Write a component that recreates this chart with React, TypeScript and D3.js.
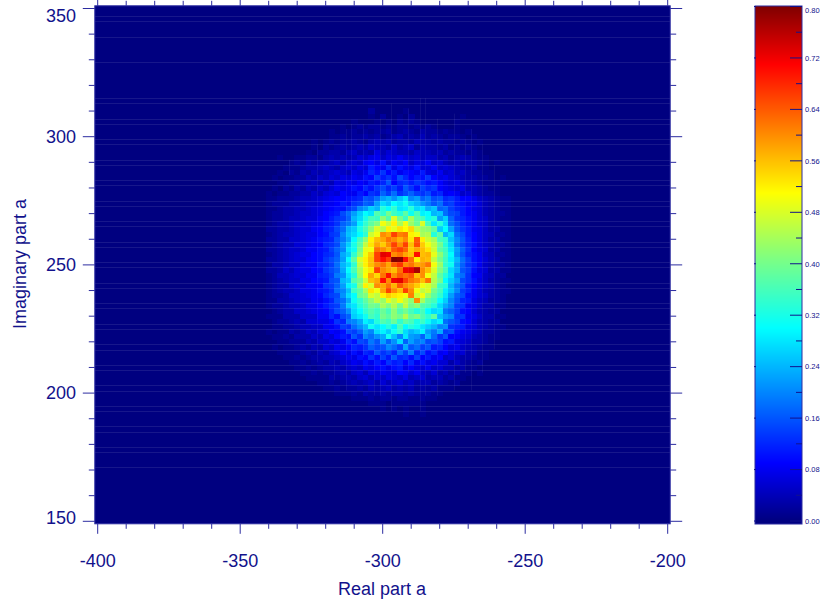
import React from "react";
import * as d3 from "d3";

const xMajor = [-400, -350, -300, -250, -200];
const yMajor = [150, 200, 250, 300, 350];
const yLabelNudge = [-3, 0, 0, 0, 7];
const barMajor = [0, 0.08, 0.16, 0.24, 0.32, 0.4, 0.48, 0.56, 0.64, 0.72, 0.8];
const xTitle = "Real part a";
const yTitle = "Imaginary part a";

const heatXStart = -340;
const heatYStart = 310;
// bin heights in hundredths, rows from y=310 downward in 2-unit bins, columns from x=-340 rightward
const heatRows: number[][] = [
[0,0,0,0,0,0,0,0,0,0,0,0,0,0,0,0,0,0,2,0,0,0,0,0,1,0,0,0,0,0,0,0,0,0,0,0,0,0,0,0,0,0,0],
[0,0,0,0,0,0,0,0,0,0,0,0,0,0,0,0,0,0,1,0,2,0,0,1,0,2,0,0,0,0,0,0,0,0,1,0,0,0,0,0,0,0,0],
[0,0,0,0,0,0,0,0,0,0,0,0,0,0,0,1,0,0,0,1,0,1,0,2,1,2,1,0,0,0,0,0,0,1,0,0,0,0,0,0,0,0,0],
[0,0,0,0,0,0,0,0,0,0,0,0,0,1,0,1,2,1,2,2,1,2,1,2,2,1,2,1,2,1,0,0,0,1,0,0,0,0,0,0,0,0,0],
[0,0,0,0,0,0,0,0,0,0,0,1,0,1,1,2,1,2,1,2,2,3,1,2,3,2,1,3,2,2,1,2,1,1,0,1,0,0,0,0,0,0,0],
[0,0,0,0,0,0,0,0,0,0,0,1,1,2,1,2,2,3,2,3,1,2,3,4,2,3,2,4,2,3,2,1,2,2,1,0,1,0,0,0,0,0,0],
[0,0,0,0,0,0,0,0,1,0,1,2,1,2,2,3,2,1,3,4,3,4,2,3,3,2,4,3,3,2,3,2,2,1,2,1,0,1,0,0,0,0,0],
[0,0,0,0,0,0,0,0,1,0,2,1,2,3,2,3,4,3,5,4,4,3,5,3,4,5,2,4,3,3,2,3,1,2,1,2,1,0,0,0,0,0,0],
[0,0,0,0,0,0,0,1,0,2,2,3,3,2,4,5,3,4,3,7,4,6,5,4,4,3,5,4,4,3,4,2,3,2,2,1,2,1,0,0,0,0,0],
[0,0,1,0,0,1,1,2,2,1,3,4,3,4,3,4,6,5,7,8,5,7,6,8,6,5,6,4,5,5,3,4,2,3,4,3,2,1,1,0,0,0,0],
[0,0,0,0,1,2,1,3,2,3,3,4,5,3,5,6,5,8,9,7,10,6,8,7,9,5,7,6,8,5,6,4,3,4,2,3,3,2,1,0,1,0,0],
[0,0,0,1,1,1,2,3,3,4,5,4,3,5,6,5,7,6,11,9,8,12,7,10,8,7,10,6,6,8,5,6,5,4,3,2,3,1,1,0,0,0,0],
[0,0,1,0,2,1,3,2,4,3,4,5,6,5,4,7,6,8,12,10,13,9,11,8,10,9,8,11,7,6,8,5,6,4,5,3,2,2,1,1,0,0,0],
[0,1,0,1,1,2,2,4,3,5,4,6,5,7,6,8,7,10,9,14,11,13,10,15,12,9,11,10,13,9,7,8,6,5,4,3,3,2,2,1,0,1,0],
[0,0,1,1,2,2,3,3,4,3,5,4,7,6,8,7,9,8,11,10,12,16,9,12,13,11,13,12,10,11,9,7,6,7,5,4,3,2,1,1,1,0,0],
[0,1,0,2,1,3,2,4,3,5,4,6,8,7,8,10,9,12,10,13,15,12,14,11,16,13,10,14,12,13,9,8,7,6,7,4,4,3,2,1,1,0,0],
[1,0,1,1,2,2,3,3,5,4,6,7,6,9,8,8,11,9,13,12,17,14,18,13,15,17,14,13,15,11,12,8,9,8,5,6,4,3,2,2,1,0,0],
[1,1,2,2,2,3,4,4,5,6,7,8,9,9,10,11,12,16,15,18,22,24,21,25,28,20,22,17,19,15,16,12,13,11,9,9,7,5,4,3,2,1,1],
[1,2,2,2,3,3,4,5,5,6,8,8,9,11,10,13,14,17,16,22,27,25,30,28,31,26,24,21,19,16,18,13,14,11,10,8,8,6,4,3,2,1,1],
[1,1,2,3,3,4,4,5,6,7,8,9,10,10,13,15,20,22,26,24,33,30,34,28,29,33,27,28,23,25,17,18,14,12,11,9,7,6,4,3,2,1,1],
[1,2,2,3,3,4,5,5,6,7,9,10,11,15,18,22,26,30,28,37,34,40,35,33,38,31,36,29,30,24,25,18,15,14,11,9,8,6,4,3,2,2,1],
[1,2,2,3,4,4,5,6,6,8,9,11,13,14,17,24,27,32,36,35,42,37,48,40,35,44,38,36,31,33,22,26,17,13,12,10,8,6,5,3,2,1,1],
[1,2,3,3,4,5,5,6,7,8,10,11,13,17,19,22,29,34,38,41,50,46,52,44,50,43,39,48,36,28,33,27,18,15,12,10,8,6,5,3,2,1,1],
[2,2,3,3,4,5,6,6,8,9,11,12,15,18,24,26,32,36,42,48,45,52,49,53,51,54,46,43,42,38,26,30,22,16,13,11,8,7,5,3,3,1,1],
[1,2,3,4,4,5,6,7,7,9,10,13,14,20,25,27,30,34,47,50,60,58,66,61,62,52,50,44,45,33,38,24,27,18,15,11,9,7,5,4,2,2,1],
[2,2,3,3,5,5,6,7,8,10,11,12,16,19,23,30,36,42,52,56,58,62,60,57,60,53,64,52,47,44,36,34,25,20,16,12,9,7,5,3,3,1,1],
[1,2,3,4,4,6,6,7,8,9,12,13,15,21,26,32,38,46,53,58,55,60,66,60,66,56,65,55,50,46,40,33,27,19,15,12,10,7,5,4,2,2,1],
[2,2,3,4,5,5,6,8,8,10,11,14,17,20,28,31,40,49,50,62,60,57,64,66,63,55,58,56,53,47,38,35,28,22,17,13,9,7,6,3,3,1,1],
[1,2,3,4,5,6,7,7,9,10,12,13,16,23,26,34,42,50,55,66,73,72,60,62,58,56,70,56,57,49,42,36,30,21,16,12,10,8,5,4,2,2,1],
[2,2,3,4,5,6,6,8,9,10,13,15,17,22,30,38,48,52,56,66,70,66,80,79,70,62,52,57,56,46,40,35,29,24,18,14,10,8,6,4,3,1,1],
[1,3,3,4,5,5,7,8,8,11,12,14,18,24,27,34,46,52,56,60,62,58,64,67,60,62,58,59,62,50,43,34,31,22,17,13,11,8,5,4,2,2,1],
[2,2,3,5,4,6,7,7,9,10,13,15,17,23,30,36,44,50,53,66,60,58,56,62,72,73,77,60,56,48,41,36,27,23,16,14,10,7,6,3,3,1,1],
[1,2,4,4,5,6,6,8,8,11,12,14,19,21,28,33,43,51,58,54,62,70,60,64,62,64,56,60,50,46,38,33,28,20,18,13,9,8,5,4,2,2,0],
[1,2,3,4,5,5,7,7,9,10,11,15,16,24,26,37,40,47,56,58,70,60,72,73,66,62,60,56,62,45,40,30,26,22,15,13,10,7,5,3,2,1,1],
[1,2,3,3,5,6,6,8,8,9,13,14,17,22,29,32,42,52,48,60,58,62,57,64,60,58,55,50,48,44,35,33,24,19,16,11,9,7,5,4,2,1,0],
[1,2,3,4,4,5,7,7,8,10,11,13,18,20,25,35,38,44,53,50,58,66,60,56,66,60,50,46,48,40,36,29,25,20,14,12,8,6,4,3,2,1,1],
[1,2,2,3,5,5,6,7,8,9,12,14,15,21,27,30,39,41,48,46,52,55,53,52,50,61,47,50,43,38,34,28,22,17,15,10,8,6,5,3,2,1,0],
[1,1,3,3,4,5,6,6,8,8,10,12,16,18,23,31,34,38,42,46,43,49,46,50,46,42,60,44,38,36,30,26,20,16,12,11,7,5,4,2,2,1,0],
[1,2,2,3,4,4,5,7,7,9,11,13,14,19,26,28,33,36,40,39,44,41,45,40,46,40,42,37,36,33,27,23,20,14,13,8,7,5,3,3,1,1,0],
[0,1,2,3,3,5,5,6,7,8,9,12,15,17,21,27,30,34,37,35,39,36,42,37,40,36,33,36,30,27,28,19,17,14,10,9,6,4,3,2,2,0,0],
[1,1,1,3,3,3,5,5,5,8,8,12,10,15,17,26,28,31,36,34,40,38,42,40,45,39,41,37,34,38,25,22,20,13,13,8,7,5,3,3,1,1,0],
[0,1,2,2,3,4,3,6,6,7,7,9,13,12,19,20,23,29,27,33,37,35,39,34,38,36,32,35,31,27,29,18,16,14,10,9,6,4,3,2,2,0,0],
[0,1,1,2,2,3,4,4,5,5,8,8,10,14,13,18,21,24,31,28,30,33,29,36,30,33,31,28,26,24,20,21,13,12,11,7,6,4,3,2,1,1,0],
[1,0,1,1,3,2,3,5,4,6,6,9,8,10,15,14,17,22,20,27,29,26,31,34,27,24,26,29,22,19,23,14,15,10,8,7,5,4,2,2,1,0,0],
[0,1,1,2,1,3,3,3,5,4,7,6,9,11,10,16,13,20,18,21,23,31,25,20,28,22,21,17,24,18,13,16,9,9,7,6,4,3,2,1,1,0,0],
[0,0,1,1,2,2,2,4,3,5,5,7,6,8,12,10,15,14,19,16,22,17,21,27,17,22,19,20,15,16,14,10,11,7,6,5,3,3,2,1,0,0,0],
[0,1,0,1,1,2,3,2,4,3,6,5,8,7,9,12,11,13,17,15,16,20,18,15,23,16,18,14,16,11,12,9,7,8,5,4,3,2,1,1,0,0,0],
[0,0,1,1,1,1,2,3,2,4,3,5,6,9,7,10,8,12,11,16,13,15,12,18,14,19,12,15,10,12,8,9,6,5,6,3,3,1,1,0,0,0,0],
[0,0,0,1,1,2,1,2,3,3,4,4,5,6,8,7,10,9,13,10,14,11,16,12,13,10,14,9,11,8,9,5,6,4,3,3,2,1,1,0,0,0,0],
[0,0,0,0,1,1,2,1,2,3,2,4,3,5,6,8,7,10,8,11,9,13,11,12,9,12,8,10,7,8,6,6,3,5,3,2,1,2,0,0,0,0,0],
[0,0,0,0,0,1,1,2,1,2,3,3,4,3,5,6,5,8,7,9,10,8,10,11,7,9,7,6,8,5,6,4,4,2,3,1,1,0,0,0,0,0,0],
[0,0,0,0,0,0,1,1,2,1,2,2,3,4,3,5,6,4,7,6,8,7,6,9,8,6,8,5,4,6,3,4,2,3,1,1,0,1,0,0,0,0,0],
[0,0,0,0,0,0,0,1,1,1,1,3,2,3,4,3,5,6,4,6,5,7,6,5,7,4,5,6,3,4,4,2,3,1,1,0,0,0,0,0,0,0,0],
[0,0,0,0,0,0,0,0,0,1,1,2,1,2,3,4,3,4,5,3,6,4,5,6,4,5,3,4,4,2,3,2,1,2,0,0,0,0,0,0,0,0,0],
[0,0,0,0,0,0,0,0,0,0,1,1,2,1,2,2,3,2,4,3,4,5,3,4,3,4,2,3,2,3,1,1,1,0,0,0,0,0,0,0,0,0,0],
[0,0,0,0,0,0,0,0,0,0,0,0,1,1,1,2,1,3,2,2,3,2,3,3,2,3,2,2,2,1,1,0,0,0,0,0,0,0,0,0,0,0,0],
[0,0,0,0,0,0,0,0,0,0,0,0,0,0,0,1,1,1,2,1,2,2,1,2,2,1,1,2,1,1,0,0,0,0,0,0,0,0,0,0,0,0,0],
[0,0,0,0,0,0,0,0,0,0,0,0,0,0,0,0,0,0,1,1,1,0,1,1,1,1,1,1,0,0,0,0,0,0,0,0,0,0,0,0,0,0,0],
[0,0,0,0,0,0,0,0,0,0,0,0,0,0,0,0,0,0,0,0,1,0,1,0,1,0,0,1,0,0,0,0,0,0,0,0,0,0,0,0,0,0,0],
[0,0,0,0,0,0,0,0,0,0,0,0,0,0,0,0,0,0,0,0,0,0,0,0,1,0,0,1,0,0,0,0,0,0,0,0,0,0,0,0,0,0,0],
];

const seamRows = [347,345,339,329,315,313,307,305,299,297,291,289,283,281,275,273,267,265,259,257,251,249,243,241,235,233,227,225,219,217,211,209,203,201,195,193,187,185,179,177,171];
const seamColumnsX = [-333,-323,-317,-313,-311,-307,-303,-301,-297,-291,-287,-285,-281,-275,-271,-269,-265,-261];
const seamColumnsTop = [291,297,213,303,305,305,299,307,313,311,315,315,307,309,299,303,297,289];
const seamColumnsBottom = [285,212,205,201,213,214,199,199,193,208,193,199,199,201,208,201,208,217];

const navy = "#12128c";
const edge = "#2c2ca0";
const jetStops = [0, 0.09, 0.3, 0.41, 0.51, 0.71, 0.8];
const jetColors = ["#000080", "#0000ff", "#00ffff", "#80ff80", "#ffff00", "#ff0000", "#800000"];

const W = 830, H = 604;
const x = d3.scaleLinear().domain([-400, -200]).range([97.7, 667.7]);
const y = d3.scaleLinear().domain([150, 350]).range([521.3, 8.5]);
const barY = d3.scaleLinear().domain([0, 0.8]).range([521, 6.5]);
const jet = d3.scaleLinear<string>().domain(jetStops).range(jetColors).clamp(true);
const font = "'Liberation Sans', Arial, sans-serif";
const plot = { l: 94.8, r: 670.2, t: 5.8, b: 523.8 };
const bar = { l: 755, r: 802, t: 6, b: 524 };

export default function App() {
  const xMinor = d3.range(-400, -199, 10);
  const yMinor = d3.range(150, 351, 10);
  const barMinor = d3.range(0.04, 0.8, 0.08);
  const barCells = d3.range(bar.t, bar.b, 1);
  return (
    <svg width={W} height={H} viewBox={`0 0 ${W} ${H}`} style={{ position: "absolute", left: 0, top: 0, background: "#fff" }} fontFamily={font}>
      <rect x={plot.l} y={plot.t} width={plot.r - plot.l} height={plot.b - plot.t} fill={jet(0)} />
      <g shapeRendering="crispEdges">
        {heatRows.map((row, i) =>
          row.map((val, j) => {
            if (val === 0) return null;
            const cx = heatXStart + j * 2;
            const cy = heatYStart - i * 2;
            return (
              <rect key={`${i}-${j}`} x={x(cx - 1)} y={y(cy + 1)} width={x(cx + 1) - x(cx - 1) + 0.5} height={y(cy - 1) - y(cy + 1) + 0.5} fill={jet(val / 100)} />
            );
          })
        )}
      </g>
      <g stroke="#fff" strokeOpacity={0.09} strokeWidth={1}>
        {seamRows.map((v) => (
          <line key={v} x1={plot.l} x2={plot.r} y1={Math.round(y(v)) + 0.5} y2={Math.round(y(v)) + 0.5} />
        ))}
      </g>
      <g stroke="#fff" strokeOpacity={0.06} strokeWidth={1}>
        {seamColumnsX.map((c, i) => (
          <line key={c} x1={Math.round(x(c)) + 0.5} x2={Math.round(x(c)) + 0.5} y1={y(seamColumnsTop[i])} y2={y(seamColumnsBottom[i])} />
        ))}
      </g>
      <rect x={plot.l} y={plot.t} width={plot.r - plot.l} height={plot.b - plot.t} fill="none" stroke={edge} strokeWidth={1} />
      <g stroke={edge} strokeWidth={1}>
        {xMinor.map((t) => {
          const major = xMajor.includes(t);
          const len = major ? 10 : 5;
          return (
            <g key={t}>
              <line x1={x(t)} x2={x(t)} y1={plot.b} y2={plot.b + len} />
              <line x1={x(t)} x2={x(t)} y1={plot.t} y2={plot.t - len} />
            </g>
          );
        })}
        {yMinor.map((t) => {
          const major = yMajor.includes(t);
          const len = major ? 12 : 6;
          return (
            <g key={t}>
              <line x1={plot.l - len} x2={plot.l} y1={y(t)} y2={y(t)} />
              <line x1={plot.r} x2={plot.r + len} y1={y(t)} y2={y(t)} />
            </g>
          );
        })}
      </g>
      <g fill={navy} fontSize={18}>
        {xMajor.map((t) => (
          <text key={t} x={x(t)} y={567} textAnchor="middle">{t}</text>
        ))}
        {yMajor.map((t, i) => (
          <text key={t} x={76} y={y(t) + 6 + yLabelNudge[i]} textAnchor="end">{t}</text>
        ))}
        <text x={382} y={595} textAnchor="middle">{xTitle}</text>
        <text transform="translate(26,264) rotate(-90)" textAnchor="middle">{yTitle}</text>
      </g>
      <g shapeRendering="crispEdges">
        {barCells.map((py) => (
          <rect key={py} x={bar.l} y={py} width={bar.r - bar.l} height={1.2} fill={jet(barY.invert(py + 0.5))} />
        ))}
      </g>
      <rect x={bar.l} y={bar.t} width={bar.r - bar.l} height={bar.b - bar.t} fill="none" stroke={edge} strokeWidth={1} />
      <g stroke={navy} strokeWidth={1}>
        {barMajor.map((t) => (
          <g key={t}>
            <line x1={bar.r - 12} x2={bar.r} y1={barY(t)} y2={barY(t)} />
            <line x1={bar.l - 1} x2={bar.l + 1} y1={barY(t)} y2={barY(t)} />
          </g>
        ))}
        {barMinor.map((t) => (
          <line key={t} x1={bar.r - 6} x2={bar.r} y1={barY(t)} y2={barY(t)} />
        ))}
      </g>
      <g fill={navy} fontSize={7.5}>
        {barMajor.map((t) => (
          <text key={t} x={805} y={Math.max(barY(t), 10) + 2.8}>{t.toFixed(2)}</text>
        ))}
      </g>
    </svg>
  );
}
